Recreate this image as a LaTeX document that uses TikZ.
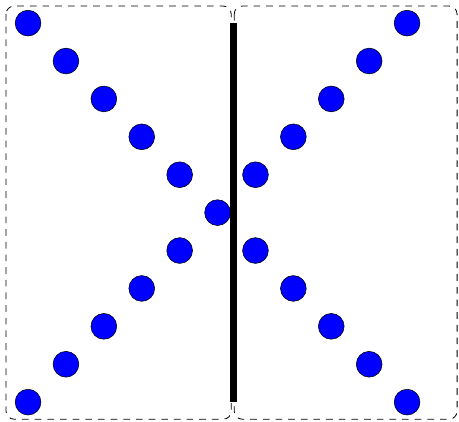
\documentclass[tikz,border=0pt]{standalone}
\usetikzlibrary{positioning}
\begin{document}
\begin{tikzpicture}[
    dot/.style={circle, draw=black, fill=blue, minimum size=0.68cm, inner sep=0pt},
    panel/.style={draw, semithick, dash pattern=on 5pt off 4.5pt, rounded corners=6pt},
    divider/.style={line width=5.3pt}
]
\useasboundingbox (-0.74,0.61) rectangle (11.37,-10.5);

% Panels
\draw[panel] (-0.58,0.45) rectangle (5.36,-10.45);
\draw[panel] (5.44,0.45) rectangle (11.32,-10.45);

% Left X
\foreach \i in {0,...,5} \node[dot] (l\i) at (\i,-\i) {};
\foreach \i in {6,...,10} \node[dot] (l\i) at (10-\i,-\i) {};

% Right X
\foreach \i in {0,...,4} \node[dot] (r\i) at (10-\i,-\i) {};
\foreach \i in {6,...,10} \node[dot] (r\i) at (\i,-\i) {};

% Divider
\coordinate (top) at (5.41,0);
\coordinate (bottom) at (5.41,-10);
\draw[divider] (top) -- (bottom);

\end{tikzpicture}
\end{document}
